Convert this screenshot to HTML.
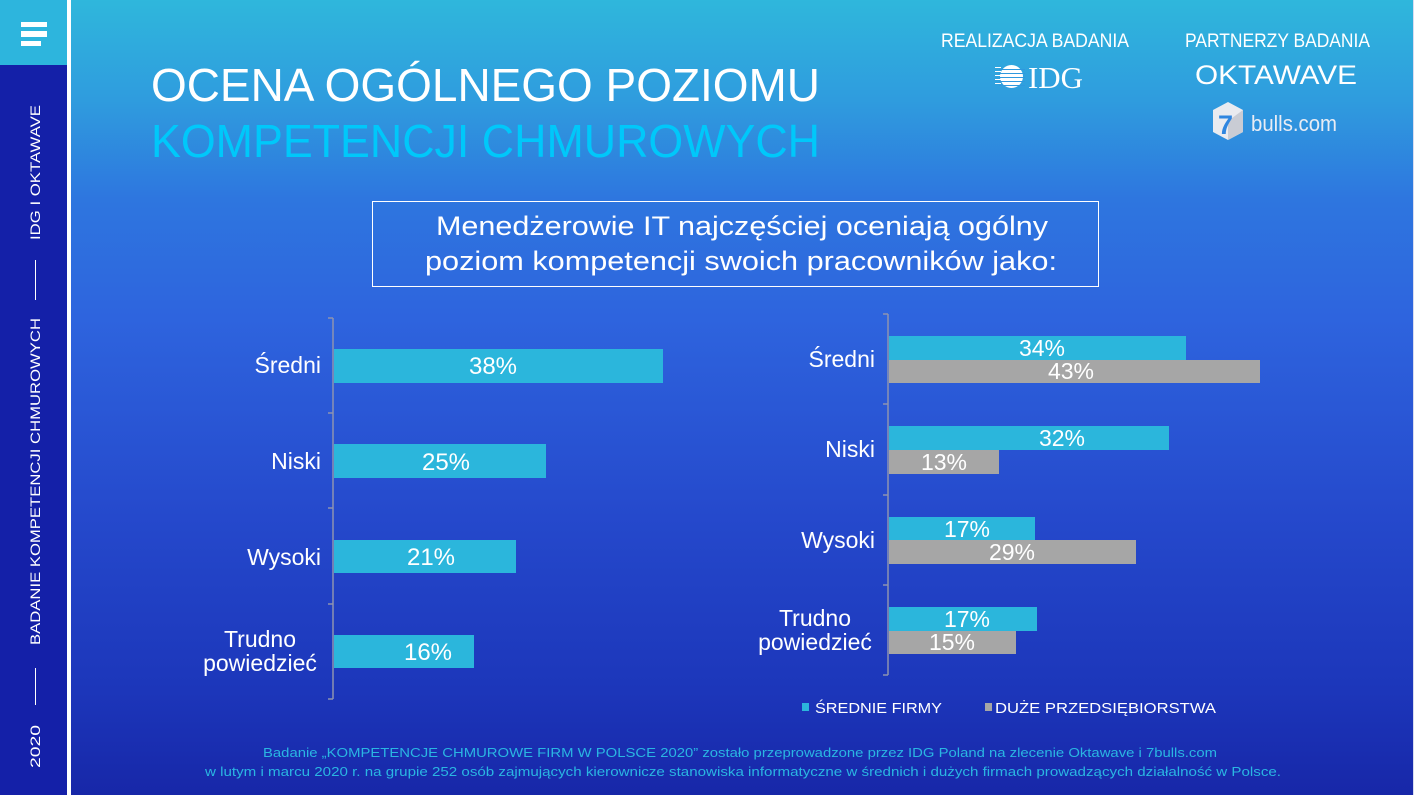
<!DOCTYPE html>
<html><head><meta charset="utf-8"><style>
html,body{margin:0;padding:0;width:1414px;height:795px;overflow:hidden;background:#1a2bab}
svg{display:block}
text{font-family:"Liberation Sans",sans-serif}
</style></head><body>
<svg width="1414" height="795" viewBox="0 0 1414 795" xmlns="http://www.w3.org/2000/svg">
<defs>
<linearGradient id="bg" x1="0" y1="0" x2="0" y2="1">
<stop offset="0" stop-color="#2fb7dc"/>
<stop offset="0.13" stop-color="#2f9bde"/>
<stop offset="0.25" stop-color="#2e76df"/>
<stop offset="0.4" stop-color="#2e64de"/>
<stop offset="0.65" stop-color="#2549cc"/>
<stop offset="0.87" stop-color="#1c36ba"/>
<stop offset="1" stop-color="#1727a8"/>
</linearGradient>
</defs>
<rect x="0" y="0" width="1414" height="795" fill="url(#bg)"/>
<rect x="1413" y="0" width="1" height="795" fill="#d8dcf0"/>

<!-- sidebar -->
<rect x="0" y="0" width="67" height="795" fill="#1420a8"/>
<rect x="0" y="0" width="67" height="65" fill="#2db5dd"/>
<rect x="67" y="0" width="4" height="795" fill="#ffffff"/>
<rect x="21" y="22" width="26" height="5" fill="#fff"/>
<rect x="21" y="31" width="26" height="6" fill="#fff"/>
<rect x="21" y="41" width="20" height="5" fill="#fff"/>
<g fill="#ffffff" font-size="14">
<text transform="translate(40,240) rotate(-90)" textLength="135" lengthAdjust="spacingAndGlyphs">IDG I OKTAWAVE</text>
<text transform="translate(40,645) rotate(-90)" textLength="327" lengthAdjust="spacingAndGlyphs">BADANIE KOMPETENCJI CHMUROWYCH</text>
<text transform="translate(40,768) rotate(-90)" textLength="43" lengthAdjust="spacingAndGlyphs">2020</text>
</g>
<rect x="35" y="260" width="1" height="40" fill="#ffffff"/>
<rect x="35" y="668" width="1" height="37" fill="#ffffff"/>

<!-- title -->
<text x="151" y="101" font-size="46" fill="#ffffff" textLength="669" lengthAdjust="spacingAndGlyphs">OCENA OGÓLNEGO POZIOMU</text>
<text x="151" y="157" font-size="46" fill="#00c8fa" textLength="669" lengthAdjust="spacingAndGlyphs">KOMPETENCJI CHMUROWYCH</text>

<!-- header right -->
<text x="941" y="47" font-size="19" fill="#ffffff" textLength="188" lengthAdjust="spacingAndGlyphs">REALIZACJA BADANIA</text>
<text x="1185" y="47" font-size="19" fill="#ffffff" textLength="185" lengthAdjust="spacingAndGlyphs">PARTNERZY BADANIA</text>
<!-- IDG logo -->
<g>
<circle cx="1011.5" cy="76.5" r="11.5" fill="#ffffff"/>
<g fill="#ffffff">
<rect x="995" y="67" width="6" height="1"/>
<rect x="995" y="71" width="6" height="1"/>
<rect x="995" y="75" width="6" height="1"/>
<rect x="995" y="79" width="6" height="1"/>
<rect x="995" y="83" width="6" height="1"/>
</g>
<g fill="#2f98de">
<rect x="999" y="69" width="26" height="1"/>
<rect x="999" y="73" width="26" height="1"/>
<rect x="999" y="77" width="26" height="1"/>
<rect x="999" y="81" width="26" height="1"/>
<rect x="999" y="85" width="26" height="1"/>
</g>
<text x="1028" y="88" font-family="Liberation Serif,serif" font-size="31" fill="#ffffff" textLength="55" lengthAdjust="spacingAndGlyphs" style="font-family:'Liberation Serif',serif">IDG</text>
</g>
<!-- OKTAWAVE -->
<text x="1195" y="84" font-size="27" fill="#ffffff" textLength="162" lengthAdjust="spacingAndGlyphs">OKTAWAVE</text>
<!-- 7bulls -->
<polygon points="1228,102 1243,110 1243,132 1228,140 1213,132 1213,110" fill="#e9ebf0"/>
<polygon points="1228,121 1243,110 1243,132 1228,140" fill="#c9ccd4"/>
<text x="1218" y="134" font-size="27" font-weight="bold" fill="#2f86e0">7</text>
<text x="1251" y="131" font-size="22" fill="#e8ecf4" textLength="86" lengthAdjust="spacingAndGlyphs">bulls.com</text>

<!-- question box -->
<rect x="372.5" y="201.5" width="726" height="85" fill="none" stroke="#ffffff" stroke-width="1"/>
<text x="436" y="235" font-size="27" fill="#ffffff" textLength="612" lengthAdjust="spacingAndGlyphs">Menedżerowie IT najczęściej oceniają ogólny</text>
<text x="425" y="270" font-size="27" fill="#ffffff" textLength="632" lengthAdjust="spacingAndGlyphs">poziom kompetencji swoich pracowników jako:</text>

<!-- left chart -->
<g stroke="#8d93b0" stroke-width="1.5" fill="none">
<line x1="333" y1="318" x2="333" y2="699"/>
<line x1="328" y1="318" x2="333" y2="318"/>
<line x1="328" y1="413" x2="333" y2="413"/>
<line x1="328" y1="508" x2="333" y2="508"/>
<line x1="328" y1="604" x2="333" y2="604"/>
<line x1="328" y1="699" x2="333" y2="699"/>
</g>
<g fill="#2bb6dc">
<rect x="334" y="349" width="329" height="34"/>
<rect x="334" y="444" width="212" height="34"/>
<rect x="334" y="540" width="182" height="33"/>
<rect x="334" y="635" width="140" height="33"/>
</g>
<g fill="#ffffff" font-size="23" text-anchor="end">
<text x="321" y="373">Średni</text>
<text x="321" y="469">Niski</text>
<text x="321" y="565">Wysoki</text>
</g>
<g fill="#ffffff" font-size="23" text-anchor="middle">
<text x="260" y="647">Trudno</text>
<text x="260" y="671">powiedzieć</text>
</g>
<g fill="#ffffff" font-size="24" text-anchor="middle">
<text x="493" y="374">38%</text>
<text x="446" y="470">25%</text>
<text x="431" y="565">21%</text>
<text x="428" y="660">16%</text>
</g>

<!-- right chart -->
<g stroke="#8d93b0" stroke-width="1.5" fill="none">
<line x1="888" y1="314" x2="888" y2="675"/>
<line x1="883" y1="314" x2="888" y2="314"/>
<line x1="883" y1="404" x2="888" y2="404"/>
<line x1="883" y1="495" x2="888" y2="495"/>
<line x1="883" y1="585" x2="888" y2="585"/>
<line x1="883" y1="675" x2="888" y2="675"/>
</g>
<g fill="#2bb6dc">
<rect x="889" y="336" width="297" height="24"/>
<rect x="889" y="426" width="280" height="24"/>
<rect x="889" y="517" width="146" height="23"/>
<rect x="889" y="607" width="148" height="24"/>
</g>
<g fill="#a6a6a6">
<rect x="889" y="360" width="371" height="23"/>
<rect x="889" y="450" width="110" height="24"/>
<rect x="889" y="540" width="247" height="24"/>
<rect x="889" y="631" width="127" height="23"/>
</g>
<g fill="#ffffff" font-size="23" text-anchor="end">
<text x="875" y="367">Średni</text>
<text x="875" y="457">Niski</text>
<text x="875" y="548">Wysoki</text>
</g>
<g fill="#ffffff" font-size="23" text-anchor="middle">
<text x="815" y="626">Trudno</text>
<text x="815" y="650">powiedzieć</text>
</g>
<g fill="#ffffff" font-size="23" text-anchor="middle">
<text x="1042" y="356">34%</text>
<text x="1071" y="379">43%</text>
<text x="1062" y="446">32%</text>
<text x="944" y="470">13%</text>
<text x="967" y="537">17%</text>
<text x="1012" y="560">29%</text>
<text x="967" y="627">17%</text>
<text x="952" y="650">15%</text>
</g>

<!-- legend -->
<rect x="802" y="703" width="7" height="8" fill="#2bb6dc"/>
<text x="815" y="713" font-size="15" fill="#ffffff" textLength="127" lengthAdjust="spacingAndGlyphs">ŚREDNIE FIRMY</text>
<rect x="985" y="703" width="7" height="8" fill="#a6a6a6"/>
<text x="995" y="713" font-size="15" fill="#ffffff" textLength="221" lengthAdjust="spacingAndGlyphs">DUŻE PRZEDSIĘBIORSTWA</text>

<!-- footer -->
<text x="263" y="757" font-size="13" fill="#2ab6e2" textLength="954" lengthAdjust="spacingAndGlyphs">Badanie „KOMPETENCJE CHMUROWE FIRM W POLSCE 2020”  zostało przeprowadzone przez IDG Poland  na zlecenie Oktawave i 7bulls.com</text>
<text x="205" y="776" font-size="13" fill="#2ab6e2" textLength="1076" lengthAdjust="spacingAndGlyphs">w  lutym i marcu 2020 r. na grupie 252 osób zajmujących kierownicze stanowiska informatyczne w średnich i dużych firmach prowadzących działalność w Polsce.</text>
</svg>
</body></html>
